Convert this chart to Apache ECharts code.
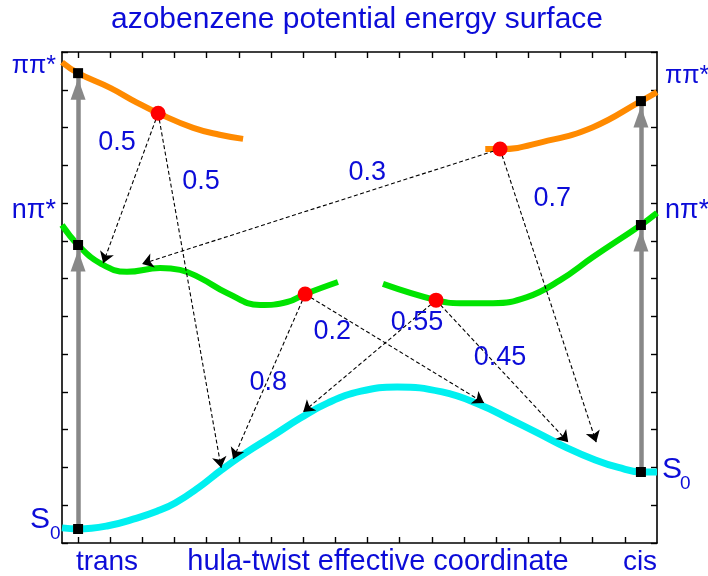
<!DOCTYPE html>
<html>
<head>
<meta charset="utf-8">
<script src="https://cdn.jsdelivr.net/npm/echarts@6/dist/echarts.min.js"></script>
<style>
  html, body { margin: 0; padding: 0; background: #fff; }
  #chart { width: 708px; height: 576px; }
</style>
</head>
<body>
<div id="chart"></div>
<script>
// Hula-twist coordinate: trans geometry at 0, cis geometry at 17.5 (arbitrary units).
// Energies in arbitrary units.
const xTicks = [0, 1, 2, 3, 4, 5, 6, 7, 8, 9, 10, 11, 12, 13, 14, 15, 16, 17];

// pi-pi* surface (two branches)
const pipiTrans = [[-0.5, 12.73], [0, 12.44], [1.0, 12.05], [1.83, 11.66], [2.49, 11.38], [3.58, 10.99], [4.4, 10.81], [5.13, 10.70]];
const pipiCis = [[12.66, 10.43], [13.12, 10.43], [14.46, 10.62], [16.01, 11.01], [17.5, 11.70], [18.0, 11.94]];

// n-pi* surface (two branches)
const npiTrans = [[-0.5, 8.42], [0, 7.89], [0.68, 7.41], [1.52, 7.18], [2.55, 7.28], [3.17, 7.23], [3.79, 7.02],
                  [4.63, 6.62], [5.66, 6.30], [6.50, 6.38], [7.06, 6.59], [8.08, 6.91]];
const npiCis = [[9.48, 6.86], [11.13, 6.43], [11.88, 6.35], [12.90, 6.35], [13.96, 6.51], [14.99, 6.96],
                [16.01, 7.57], [17.5, 8.42], [18.0, 8.74]];

// ground state S0
const ground = [[-0.5, 0.40], [0, 0.37], [0.9, 0.45], [1.83, 0.66], [2.45, 0.84], [3.02, 1.06], [3.75, 1.47], [4.45, 1.93],
                [5.2, 2.38], [6.00, 2.81], [6.9, 3.30], [7.77, 3.71], [8.8, 4.02], [9.92, 4.13], [11.32, 4.00],
                [12.53, 3.65], [13.4, 3.29], [14.30, 2.91], [15.2, 2.52], [16.08, 2.20], [16.8, 2.00], [17.5, 1.88], [18.0, 1.88]];

// vertical excitation levels: S0, n-pi*, pi-pi*
const transX = 0;
const cisX = 17.5;
const transLevels = [0.37, 7.89, 12.44];
const cisLevels = [1.88, 8.42, 11.70];

// decay funnels (red dots)
const funnels = [[2.49, 11.38], [13.12, 10.43], [7.06, 6.59], [11.13, 6.43]];

// non-radiative hops: source funnel, landing point, branching ratio
const hopFrom = [0, 0, 1, 1, 2, 2, 3, 3];
const hopTo = [[0.78, 7.41], [4.45, 1.99], [1.99, 7.39], [16.11, 2.67], [4.82, 2.22], [12.62, 3.71], [7.00, 3.47], [15.24, 2.67]];
const hopYield = ['0.5', '0.5', '0.3', '0.7', '0.8', '0.2', '0.55', '0.45'];

// where each branching ratio is written
const yieldAnchor = [[1.21, 10.59], [3.82, 9.58], [8.99, 9.82], [14.74, 9.13], [5.91, 4.26], [7.90, 5.59], [10.54, 5.85], [13.12, 4.90]];

const BLUE = '#0c0cd8';
const FONT = '"Liberation Sans", Arial, sans-serif';
const ORANGE = '#ff8a00';
const GREEN = '#00e400';
const CYAN = '#00f0f0';
const GREY = '#888888';

const chart = echarts.init(document.getElementById('chart'), null, { renderer: 'canvas' });

function frameAxis(extra) {
  return Object.assign({
    type: 'value',
    axisLine: { show: true, onZero: false, lineStyle: { color: '#000', width: 1.6 } },
    axisTick: { show: true, inside: true, length: 6, lineStyle: { color: '#000', width: 1.4 } },
    axisLabel: { show: false },
    splitLine: { show: false }
  }, extra);
}

function curve(data, color, width) {
  return {
    type: 'line', data: data, smooth: 0.45, showSymbol: false, symbol: 'none',
    lineStyle: { color: color, width: width }, z: 2, silent: true
  };
}

function text(str, x, y, size, align) {
  return {
    type: 'text', x: x, y: y, silent: true, z: 100,
    style: { text: str, fill: BLUE, font: size + 'px ' + FONT, textAlign: align || 'center', textVerticalAlign: 'middle' }
  };
}

const option = {
  animation: false,
  backgroundColor: '#fff',
  grid: { left: 62, right: 51, top: 52, bottom: 33 },
  xAxis: [
    frameAxis({ min: -0.5, max: 18, position: 'bottom', axisTick: { show: true, inside: true, length: 6, customValues: xTicks, lineStyle: { color: '#000', width: 1.4 } } }),
    frameAxis({ min: -0.5, max: 18, position: 'top', axisTick: { show: true, inside: true, length: 6, customValues: xTicks, lineStyle: { color: '#000', width: 1.4 } } })
  ],
  yAxis: [
    frameAxis({ min: 0, max: 13, interval: 1, position: 'left' }),
    frameAxis({ min: 0, max: 13, interval: 1, position: 'right' })
  ],
  graphic: [
    text('azobenzene potential energy surface', 357, 20, 30),
    text('trans', 107, 562, 28),
    text('hula-twist effective coordinate', 378, 562, 29),
    text('cis', 640, 562, 28),
    text('ππ*', 56, 66, 25, 'right'),
    text('nπ*', 56, 211, 27, 'right'),
    text('S', 50, 520, 30, 'right'),
    text('0', 50, 534, 19, 'left'),
    text('ππ*', 665, 76, 25, 'left'),
    text('nπ*', 665, 211, 27, 'left'),
    text('S', 662, 470, 30, 'left'),
    text('0', 680, 484, 19, 'left')
  ],
  series: [
    curve(ground, CYAN, 7),
    curve(npiTrans, GREEN, 6),
    curve(npiCis, GREEN, 6),
    curve(pipiTrans, ORANGE, 6),
    curve(pipiCis, ORANGE, 6),
    {
      // vertical excitation shafts
      type: 'lines', coordinateSystem: 'cartesian2d', z: 3, silent: true,
      symbol: 'none',
      lineStyle: { color: GREY, width: 4.5, opacity: 1 },
      data: [
        { coords: [[transX, transLevels[0]], [transX, transLevels[2]]] },
        { coords: [[cisX, cisLevels[0]], [cisX, cisLevels[2]]] }
      ]
    },
    {
      // arrowheads just below each excited level
      type: 'scatter', z: 4, silent: true,
      symbol: 'triangle', symbolSize: [15, 21], symbolOffset: [0, 16],
      itemStyle: { color: GREY, opacity: 1 },
      data: [[transX, transLevels[1]], [transX, transLevels[2]], [cisX, cisLevels[1]], [cisX, cisLevels[2]]]
    },
    {
      // non-radiative decay channels
      type: 'lines', coordinateSystem: 'cartesian2d', z: 5, silent: true,
      symbol: ['none', 'arrow'], symbolSize: 11,
      lineStyle: { color: '#000', width: 1.1, type: [4, 2.5], opacity: 1 },
      itemStyle: { color: '#000' },
      data: hopFrom.map((f, i) => ({ coords: [funnels[f], hopTo[i]] }))
    },
    {
      type: 'scatter', z: 6, silent: true, symbol: 'rect', symbolSize: 10,
      itemStyle: { color: '#000', opacity: 1 },
      data: transLevels.map(v => [transX, v]).concat(cisLevels.map(v => [cisX, v]))
    },
    {
      type: 'scatter', z: 7, silent: true, symbol: 'circle', symbolSize: 15,
      itemStyle: { color: '#ff0000', opacity: 1 },
      data: funnels
    },
    {
      type: 'scatter', z: 8, silent: true, symbolSize: 1,
      itemStyle: { color: '#fff', opacity: 0 },
      label: { show: true, position: 'inside', formatter: '{b}', color: BLUE, opacity: 1, fontSize: 27, fontFamily: FONT },
      data: yieldAnchor.map((p, i) => ({ name: hopYield[i], value: p }))
    }
  ]
};

chart.setOption(option);
</script>
</body>
</html>
